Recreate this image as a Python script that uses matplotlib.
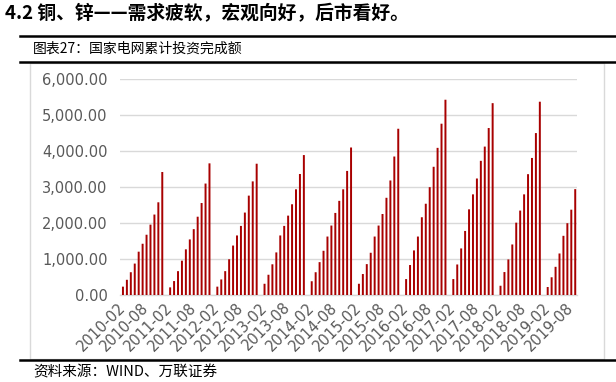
import matplotlib
matplotlib.use("Agg")
import matplotlib.pyplot as plt
import numpy as np
from matplotlib.lines import Line2D
from matplotlib.patches import Rectangle

plt.rcParams['font.family'] = ['Noto Sans CJK SC', 'DejaVu Sans']

# Cumulative investment (Feb..Dec each year; January not published)
v2010 = [240, 430, 640, 880, 1210, 1430, 1680, 1960, 2240, 2580, 3420]
v2011 = [220, 395, 670, 960, 1275, 1550, 1835, 2180, 2560, 3100, 3660]
v2012 = [240, 440, 670, 1000, 1380, 1660, 1925, 2295, 2765, 3160, 3650]
v2013 = [320, 570, 860, 1190, 1660, 1925, 2210, 2525, 2940, 3365, 3890]
v2014 = [390, 640, 920, 1235, 1630, 1935, 2285, 2620, 2940, 3450, 4100]
v2015 = [320, 590, 865, 1180, 1630, 1935, 2255, 2705, 3185, 3850, 4620]
v2016 = [450, 840, 1245, 1630, 2165, 2540, 3000, 3565, 4090, 4760, 5425]
v2017 = [450, 855, 1300, 1785, 2385, 2800, 3240, 3730, 4125, 4640, 5330]
v2018 = [265, 645, 995, 1410, 2015, 2350, 2800, 3360, 3810, 4500, 5370]
v2019 = [230, 500, 790, 1160, 1650, 2000, 2375, 2945]  # Feb..Sep

years = list(range(2010, 2020))
yearly = [v2010, v2011, v2012, v2013, v2014, v2015, v2016, v2017, v2018, v2019]

categories = []
values = []
for i, (yr, vals) in enumerate(zip(years, yearly)):
    if i > 0:
        categories.append(f"{yr}-01")
        values.append(np.nan)
    for m, v in enumerate(vals):
        categories.append(f"{yr}-{m + 2:02d}")
        values.append(v)

W, H = 616, 382
fig = plt.figure(figsize=(W / 100, H / 100), dpi=100)

def fx(px):
    return px / W

def fy(py):
    return 1 - py / H

ax = fig.add_axes([fx(120), fy(295.3), fx(577) - fx(120), fy(79) - fy(295.3)])

x = np.arange(len(categories))
bars = ax.bar(x, values, width=0.5, color='#A80000', linewidth=0, zorder=3)
for b in bars:
    b.set_snap(False)

ax.set_ylim(0, 6000)
ax.set_xlim(-0.75, len(categories) - 0.55)
ax.set_yticks(np.arange(0, 6001, 1000))
ax.set_yticklabels([f"{t:,.2f}" for t in np.arange(0, 6001, 1000)],
                   family='DejaVu Sans')
tick_idx = x[::6]
ax.set_xticks(tick_idx)
ax.set_xticklabels([categories[i] for i in tick_idx], rotation=45,
                   ha='right', va='center', rotation_mode='anchor',
                   family='DejaVu Sans')
ax.tick_params(axis='both', length=0, labelsize=10.5, labelcolor='#595959')
ax.tick_params(axis='y', pad=9)
ax.tick_params(axis='x', pad=7)
ax.grid(axis='y', color='#D9D9D9', linewidth=1.0, zorder=0)
for s in ['top', 'right', 'left']:
    ax.spines[s].set_visible(False)
ax.spines['bottom'].set_color('#D9D9D9')
ax.spines['bottom'].set_linewidth(1.0)

# Decorations
fig.add_artist(Rectangle((fx(30), fy(359)), fx(604) - fx(30), fy(63) - fy(359),
                         transform=fig.transFigure, fill=False,
                         edgecolor='#D9D9D9', linewidth=1.0))
for yy in [36, 62, 360]:
    fig.add_artist(Line2D([fx(20), 1.0], [fy(yy), fy(yy)],
                          transform=fig.transFigure, color='black', linewidth=1.8))

fig.text(fx(5), fy(14), "4.2 铜、锌——需求疲软，宏观向好，后市看好。",
         fontsize=13.5, fontweight='bold', va='center', ha='left', color='black')
fig.text(fx(33), fy(49), "图表27：国家电网累计投资完成额",
         fontsize=10, va='center', ha='left', color='black')
fig.text(fx(33), fy(372), "资料来源：WIND、万联证券",
         fontsize=10.5, va='center', ha='left', color='black', style='italic')

fig.savefig("out.png", dpi=100)
